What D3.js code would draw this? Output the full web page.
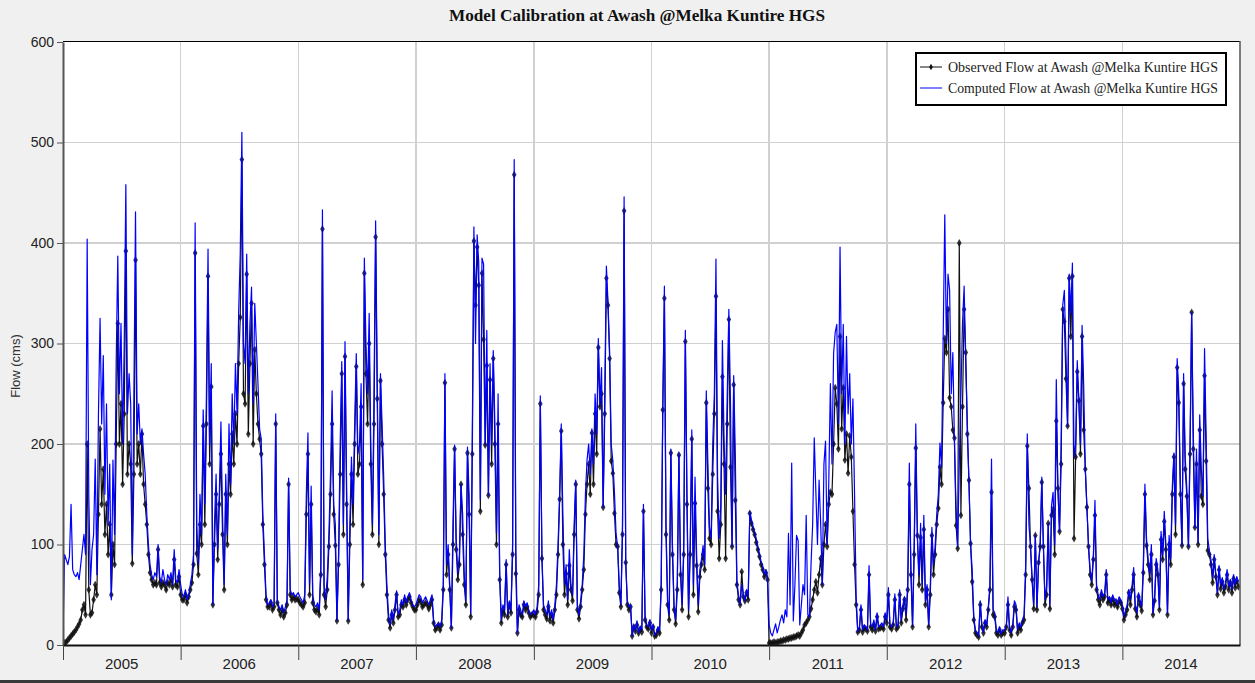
<!DOCTYPE html>
<html>
<head>
<meta charset="utf-8">
<script src="https://cdn.jsdelivr.net/npm/d3@7"></script>
<style>
  html, body { margin: 0; padding: 0; background: #f0f0f0; }
  svg { display: block; }
</style>
</head>
<body>
<svg id="chart" width="1255" height="683"></svg>
<script>
// values, one value every 5 days (73 per year)
const years = [2005, 2006, 2007, 2008, 2009, 2010, 2011, 2012, 2013, 2014];
const yTicks = [0, 100, 200, 300, 400, 500, 600];

const computed2005 = [10,90,85,80,88,140,75,70,68,72,65,80,95,110,90,404,150,60,95,110,185,70,230,325,220,288,150,240,120,180,45,184,110,280,387,250,320,200,300,458,230,270,240,90,250,431,210,240,200,215,190,170,130,100,80,70,65,72,68,100,68,62,75,65,60,70,65,72,60,95,65,62,75];
const observed2005 = [0,2,3,5,7,9,11,13,15,18,21,25,35,40,30,200,55,30,32,45,60,50,130,215,140,175,110,140,90,120,50,100,80,200,320,200,240,160,230,392,170,200,180,81,170,383,180,200,170,210,160,140,120,90,72,65,60,62,60,95,62,58,62,60,55,62,60,65,58,85,60,58,68];

const computed2006 = [60,50,48,55,45,50,60,70,90,420,120,80,150,110,234,140,250,394,200,280,40,120,170,95,150,222,130,60,170,110,220,160,250,200,280,230,330,390,510,300,280,389,250,320,356,240,340,300,260,215,205,130,90,50,40,42,45,38,42,230,45,38,35,40,32,38,45,166,55,50,52,48,50];
const observed2006 = [50,45,45,50,42,48,55,62,80,390,91,70,120,100,218,120,220,367,180,257,40,100,150,85,140,190,110,55,150,100,180,150,210,180,230,200,280,326,483,250,240,369,210,280,340,200,294,250,220,205,190,120,80,45,38,38,42,35,38,220,42,35,30,35,28,32,40,160,50,45,48,45,46];

const computed2007 = [52,48,45,42,50,150,211,60,158,50,40,38,42,35,80,433,60,45,68,110,170,253,140,120,25,90,200,282,120,302,160,25,120,187,140,220,290,190,200,260,65,385,300,250,330,200,120,250,422,265,110,270,220,168,99,60,30,20,35,25,40,54,30,35,45,40,50,42,48,52,45,40,38];
const observed2007 = [45,42,40,38,42,130,190,50,140,42,35,33,36,30,70,414,50,38,55,98,150,220,130,99,24,80,170,270,110,287,140,24,100,170,120,200,277,170,180,237,60,370,270,220,300,180,110,220,406,245,100,263,200,150,90,50,25,17,30,22,35,50,28,30,40,38,45,40,45,48,42,38,35];

const computed2008 = [40,45,50,48,42,45,48,44,40,45,50,25,18,20,22,18,25,60,270,80,100,60,17,120,199,106,71,90,160,130,70,44,197,150,31,211,416,300,408,380,145,385,379,200,313,149,280,199,293,220,111,250,71,25,40,35,85,30,44,35,100,483,96,12,40,35,30,44,38,42,35,30,32];
const observed2008 = [35,40,45,43,38,40,42,40,36,40,45,22,15,17,20,15,20,55,261,70,90,55,17,100,195,95,65,80,160,110,60,40,191,130,28,190,402,338,396,358,133,370,304,199,278,149,264,180,285,200,100,220,65,22,35,30,80,28,40,32,90,468,71,12,35,30,28,40,35,38,32,28,30];

const computed2009 = [35,30,38,60,248,90,40,35,30,44,28,35,25,40,60,100,150,220,130,60,80,45,95,60,50,120,164,40,30,44,60,90,150,184,200,170,215,180,250,210,305,240,276,137,250,377,341,293,200,183,152,111,98,60,40,120,446,82,44,38,40,9,20,15,24,12,18,15,140,30,20,18,25];
const observed2009 = [30,28,33,50,240,86,35,30,26,38,24,30,22,35,50,90,145,213,100,50,71,40,79,55,44,110,160,35,26,38,55,75,130,160,180,150,211,160,230,190,296,237,250,137,230,365,338,285,183,171,131,100,98,52,38,110,432,82,40,35,38,9,18,14,20,12,16,13,133,25,18,16,22];

const computed2010 = [15,20,10,12,18,14,60,237,357,120,45,30,195,100,40,25,63,191,80,40,100,313,150,35,100,214,60,167,90,40,75,85,99,80,253,180,117,106,200,250,384,168,106,140,303,206,150,250,334,243,98,268,190,63,50,40,60,50,44,55,48,133,125,118,112,106,98,91,83,79,70,75,68];
const observed2010 = [12,18,9,10,15,12,55,234,345,110,40,25,191,90,35,21,55,189,70,35,90,302,140,28,90,205,50,141,79,33,68,80,90,75,241,156,106,100,170,230,347,133,86,120,267,180,86,220,324,177,98,259,144,60,45,40,73,48,44,52,45,131,121,115,110,102,95,88,80,75,68,72,65];

const computed2011 = [20,12,9,15,21,12,18,25,30,22,35,28,111,40,181,24,60,109,104,20,40,60,50,129,30,28,80,120,206,152,100,164,120,60,180,203,100,160,260,180,290,311,319,220,396,250,319,200,307,230,270,200,245,150,48,13,18,40,15,20,18,15,79,20,18,25,15,32,18,20,22,18,32];
const observed2011 = [2,2,2,3,2,3,3,4,4,5,5,6,6,7,7,8,8,9,10,9,12,15,20,22,25,28,36,45,55,63,52,70,86,60,100,120,98,140,152,150,200,256,240,195,307,215,256,184,210,171,208,187,133,80,40,13,15,35,13,17,16,14,70,18,15,20,14,28,16,17,18,16,28];

const computed2012 = [25,57,20,18,22,51,18,20,55,25,40,48,30,60,181,75,20,100,220,107,70,121,60,129,44,60,20,59,117,80,98,130,150,201,177,305,428,300,369,353,250,291,200,137,98,180,250,320,357,280,220,160,101,75,28,15,12,9,44,20,13,25,20,38,60,185,35,32,15,12,18,11,15];
const observed2012 = [22,50,18,16,20,45,16,18,50,22,36,45,25,55,160,70,18,90,196,109,60,107,55,115,40,55,18,50,109,70,90,120,136,177,160,241,305,291,334,246,237,214,206,119,96,400,129,237,334,291,210,164,101,63,25,12,10,8,40,18,12,22,18,35,55,152,30,28,12,10,15,10,12];

const computed2013 = [15,20,48,18,12,20,44,40,15,22,18,25,30,80,210,120,98,65,40,109,38,82,100,167,98,45,59,121,40,138,152,100,264,156,113,200,338,353,290,218,369,330,380,187,200,283,243,200,318,258,175,137,98,75,63,90,144,59,50,45,55,48,52,75,45,48,42,50,44,46,40,48,45];
const observed2013 = [12,18,40,15,10,18,38,35,12,18,15,22,25,70,198,156,98,65,36,109,35,82,98,162,98,40,50,121,36,129,135,90,223,156,113,180,334,322,265,218,365,307,367,106,187,272,243,190,307,214,175,137,98,70,60,85,129,55,45,40,50,45,48,70,42,45,40,46,40,42,38,44,42];

const computed2014 = [40,28,35,40,55,45,59,77,40,32,52,45,38,80,160,106,86,71,100,32,48,86,75,38,113,90,133,100,32,109,86,158,191,120,285,251,160,99,270,187,156,98,200,331,214,117,195,102,229,175,148,295,206,106,94,85,67,90,71,52,79,60,67,55,62,75,58,65,55,70,60,68,62];
const observed2014 = [36,25,30,35,52,40,55,70,36,28,48,40,34,72,150,99,80,65,90,30,44,80,70,35,105,85,123,95,30,100,80,150,187,110,276,241,150,99,260,175,148,98,190,331,195,117,180,100,214,148,140,268,183,94,90,80,62,85,68,50,75,56,63,52,58,70,55,62,52,66,57,64,58];

const computedByYear = [computed2005, computed2006, computed2007, computed2008, computed2009,
  computed2010, computed2011, computed2012, computed2013, computed2014];
const observedByYear = [observed2005, observed2006, observed2007, observed2008, observed2009,
  observed2010, observed2011, observed2012, observed2013, observed2014];

function toSeries(byYear) {
  const out = [];
  byYear.forEach((vals, k) => {
    vals.forEach((v, i) => out.push({ date: new Date(years[k], 0, 1 + 5 * i), value: v }));
  });
  return out;
}
const computed = toSeries(computedByYear);
const observed = toSeries(observedByYear);

const W = 1255, H = 683;
const plot = { left: 63, right: 1240, top: 42, bottom: 645 };

const svg = d3.select("#chart");

svg.append("rect").attr("width", W).attr("height", H).attr("fill", "#f0f0f0");
svg.append("rect")
  .attr("x", plot.left).attr("y", plot.top - 1)
  .attr("width", plot.right - plot.left).attr("height", plot.bottom - plot.top + 1)
  .attr("fill", "#fff");

const x = d3.scaleTime()
  .domain([new Date(2005, 0, 1), new Date(2015, 0, 1)])
  .range([plot.left, plot.right]);
const y = d3.scaleLinear().domain([0, 600]).range([plot.bottom, plot.top]);

// grid
const grid = svg.append("g").attr("shape-rendering", "crispEdges");
grid.selectAll(".h").data(yTicks.filter(v => v > 0 && v < 600)).join("line")
  .attr("x1", plot.left).attr("x2", plot.right)
  .attr("y1", d => y(d)).attr("y2", d => y(d))
  .attr("stroke", "#d0d0d0").attr("stroke-width", 1.5);
grid.selectAll(".v").data(years.slice(1)).join("line")
  .attr("x1", d => x(new Date(d, 0, 1))).attr("x2", d => x(new Date(d, 0, 1)))
  .attr("y1", plot.top).attr("y2", plot.bottom)
  .attr("stroke", "#d0d0d0").attr("stroke-width", 1.5);

// series
svg.append("clipPath").attr("id", "clip")
  .append("rect")
  .attr("x", plot.left).attr("y", plot.top - 1)
  .attr("width", plot.right - plot.left).attr("height", plot.bottom - plot.top + 1);

const line = d3.line().x(d => x(d.date)).y(d => y(d.value));
const gSeries = svg.append("g").attr("clip-path", "url(#clip)");

gSeries.append("path").datum(observed)
  .attr("d", line).attr("fill", "none")
  .attr("stroke", "#111").attr("stroke-width", 1.2);

const marker = d3.symbol().type(d3.symbolDiamond).size(18);
gSeries.append("g").selectAll("path").data(observed).join("path")
  .attr("d", marker)
  .attr("transform", d => `translate(${x(d.date)},${y(d.value)})`)
  .attr("fill", "#111").attr("fill-opacity", 0.85);

gSeries.append("path").datum(computed)
  .attr("d", line).attr("fill", "none")
  .attr("stroke", "#0000ff").attr("stroke-width", 1.2)
  .attr("stroke-linejoin", "round");

// frame
svg.append("line")
  .attr("x1", plot.left).attr("x2", plot.right)
  .attr("y1", plot.top - 0.5).attr("y2", plot.top - 0.5)
  .attr("stroke", "#000").attr("stroke-width", 1);
svg.append("line")
  .attr("x1", plot.right).attr("x2", plot.right)
  .attr("y1", plot.top - 1).attr("y2", plot.bottom)
  .attr("stroke", "#555").attr("stroke-width", 1.5);

// y axis
const yAxis = svg.append("g")
  .attr("transform", `translate(${plot.left},0)`)
  .call(d3.axisLeft(y).tickValues(yTicks).tickSize(6).tickSizeOuter(0).tickPadding(3));
yAxis.select(".domain").attr("stroke", "#555").attr("stroke-width", 2);
yAxis.selectAll(".tick line").attr("stroke", "#555");
yAxis.selectAll("text")
  .attr("font-family", "Liberation Sans, Arial, sans-serif")
  .attr("font-size", 14).attr("fill", "#222");

// x axis
const xAxis = svg.append("g")
  .attr("transform", `translate(0,${plot.bottom})`)
  .call(d3.axisBottom(x)
    .tickValues(years.map(yr => new Date(yr, 0, 1)))
    .tickSize(15).tickSizeOuter(0).tickFormat(""));
xAxis.select(".domain").attr("stroke", "#111").attr("stroke-width", 2);
xAxis.selectAll(".tick line").attr("stroke", "#444");

svg.append("g").selectAll("text").data(years).join("text")
  .attr("x", d => x(new Date(d, 6, 2)))
  .attr("y", 669)
  .attr("text-anchor", "middle")
  .attr("font-family", "Liberation Sans, Arial, sans-serif")
  .attr("font-size", 15).attr("fill", "#222")
  .text(d => d);

// labels
svg.append("text")
  .attr("transform", "translate(20,366) rotate(-90)")
  .attr("text-anchor", "middle")
  .attr("font-family", "Liberation Sans, Arial, sans-serif")
  .attr("font-size", 13).attr("fill", "#333")
  .text("Flow (cms)");

svg.append("text")
  .attr("x", 637).attr("y", 21)
  .attr("text-anchor", "middle")
  .attr("font-family", "Liberation Serif, Times New Roman, serif")
  .attr("font-weight", "bold").attr("font-size", 16).attr("fill", "#111")
  .attr("textLength", 376).attr("lengthAdjust", "spacingAndGlyphs")
  .text("Model Calibration at Awash @Melka Kuntire HGS");

// legend
const legend = svg.append("g").attr("transform", "translate(916,53)");
legend.append("rect")
  .attr("width", 310).attr("height", 52)
  .attr("fill", "#fff").attr("stroke", "#000").attr("stroke-width", 2);
const items = [
  { label: "Observed Flow at Awash @Melka Kuntire HGS", color: "#111", dot: true },
  { label: "Computed Flow at Awash @Melka Kuntire HGS", color: "#0000ff", dot: false }
];
items.forEach((it, k) => {
  const row = legend.append("g").attr("transform", `translate(0,${14 + k * 21})`);
  row.append("line").attr("x1", 4).attr("x2", 26)
    .attr("stroke", it.color).attr("stroke-width", 1);
  if (it.dot) row.append("path").attr("d", d3.symbol().type(d3.symbolDiamond).size(12)).attr("transform", "translate(15,0)").attr("fill", "#111");
  row.append("text").attr("x", 32).attr("y", 4.5)
    .attr("font-family", "Liberation Serif, Times New Roman, serif")
    .attr("font-size", 14).attr("fill", "#222")
    .attr("textLength", 270).attr("lengthAdjust", "spacingAndGlyphs")
    .text(it.label);
});

// bottom edge of the window
svg.append("rect").attr("x", 0).attr("y", 680).attr("width", W).attr("height", 3).attr("fill", "#3a3a3a");
</script>
</body>
</html>
